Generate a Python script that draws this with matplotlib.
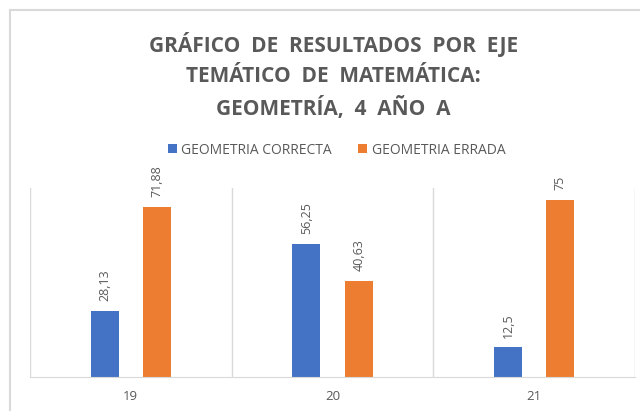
import matplotlib
matplotlib.use('Agg')
import matplotlib.pyplot as plt
import numpy as np
from matplotlib.lines import Line2D

# datos
categorias = ['19', '20', '21']
correcta = [28.13, 56.25, 12.5]
errada = [71.88, 40.63, 75]
etiquetas_correcta = ['28,13', '56,25', '12,5']
etiquetas_errada = ['71,88', '40,63', '75']

azul = '#4472C4'
naranja = '#ED7D31'
gris_texto = '#595959'
gris_linea = '#D9D9D9'

plt.rcParams['font.family'] = ['Open Sans', 'DejaVu Sans']

fig = plt.figure(figsize=(6.4, 4.11), dpi=100)
ax = fig.add_axes([30 / 640, 1 - 377 / 411, 605 / 640, 189 / 411])

x = np.arange(len(categorias))
ancho = 0.139
desp = 0.13
b1 = ax.bar(x - desp, correcta, ancho, color=azul, label='GEOMETRIA CORRECTA')
b2 = ax.bar(x + desp, errada, ancho, color=naranja, label='GEOMETRIA ERRADA')

for barras, textos in [(b1, etiquetas_correcta), (b2, etiquetas_errada)]:
    for rect, t in zip(barras, textos):
        ax.annotate(t, (rect.get_x() + rect.get_width() / 2, rect.get_height()),
                    xytext=(0, 7), textcoords='offset points', rotation=90,
                    ha='center', va='bottom', fontsize=9, color=gris_texto)

ax.set_xlim(-0.5, 2.5)
ax.set_ylim(0, 80)
for xv in np.arange(-0.5, 3, 1):
    ax.axvline(xv, color=gris_linea, lw=1, zorder=0)

for s in ['top', 'left', 'right']:
    ax.spines[s].set_visible(False)
ax.spines['bottom'].set_color(gris_linea)
ax.set_yticks([])
ax.set_xticks(x)
ax.set_xticklabels(categorias, fontsize=9.5, color=gris_texto)
ax.tick_params(axis='x', length=0, pad=9)

# titulo
fig.text(0.521, 1 - 76 / 411,
         'GRÁFICO  DE  RESULTADOS  POR  EJE\nTEMÁTICO  DE  MATEMÁTICA:\nGEOMETRÍA,  4  AÑO  A',
         ha='center', va='center', fontsize=15, fontweight='bold',
         color=gris_texto, linespacing=1.55)

fig.legend(handles=[b1, b2], loc='center', bbox_to_anchor=(0.526, 1 - 150 / 411),
           ncol=2, frameon=False, fontsize=10, labelcolor=gris_texto,
           handlelength=0.65, handleheight=0.65, handletextpad=0.3, columnspacing=1.9)

# borde del grafico
fig.add_artist(Line2D([10 / 640, 1], [1 - 10 / 411, 1 - 10 / 411], color=gris_linea, lw=1.5))
fig.add_artist(Line2D([10 / 640, 10 / 640], [0, 1 - 10 / 411], color=gris_linea, lw=1.5))

plt.savefig('out.png', dpi=100)
